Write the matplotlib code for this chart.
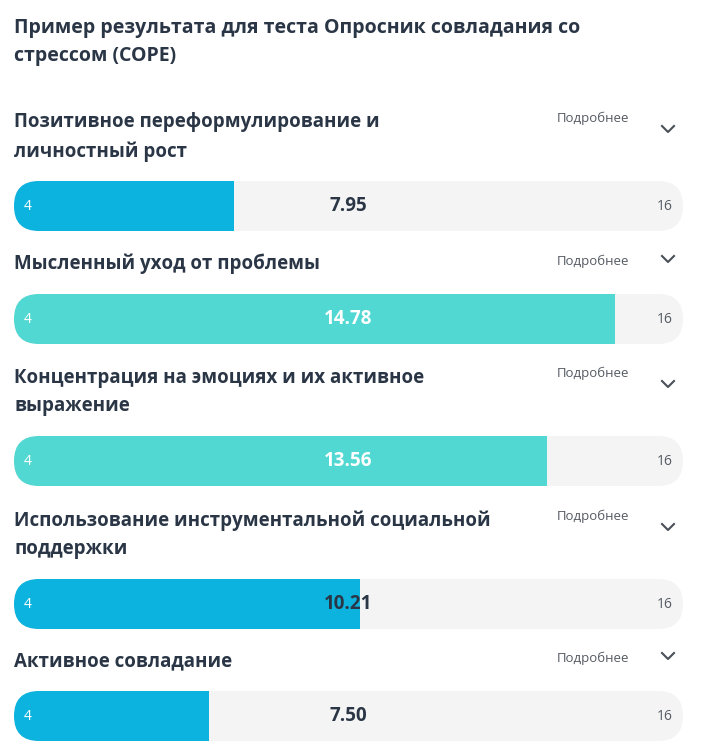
import matplotlib
matplotlib.use("Agg")
import matplotlib.pyplot as plt
from matplotlib.patches import FancyBboxPatch

# data
title = "Пример результата для теста Опросник совладания со\nстрессом (COPE)"
labels = ["Позитивное переформулирование и\nличностный рост",
          "Мысленный уход от проблемы",
          "Концентрация на эмоциях и их активное\nвыражение",
          "Использование инструментальной социальной\nподдержки",
          "Активное совладание"]
values = [7.95, 14.78, 13.56, 10.21, 7.50]
vmin, vmax = 4, 16
colors = ["#0bb3de", "#52d8d2", "#52d8d2", "#0bb3de", "#0bb3de"]

label_y = [137, 264, 392, 535, 661]   # pixel centres of label blocks
bar_y = [206, 319, 461, 604, 716]     # pixel centres of bars
more_y = [118, 261, 373, 516, 658]

W, H = 702, 748
dark = "#2a3646"
fam = ["Open Sans", "DejaVu Sans"]

fig = plt.figure(figsize=(W / 100, H / 100), dpi=100)
ax = fig.add_axes([0, 0, 1, 1])
ax.set_xlim(0, W)
ax.set_ylim(H, 0)
ax.axis("off")

ax.text(14, 42, title, fontsize=14, fontweight="bold", color=dark,
        va="center", ha="left", family=fam, linespacing=1.55)

for lab, ly, my in zip(labels, label_y, more_y):
    ax.text(14, ly, lab, fontsize=13.5, fontweight="bold", color=dark,
            va="center", ha="left", family=fam, linespacing=1.55)
    ax.text(557, my, "Подробнее", fontsize=9.5, color="#555b63",
            va="center", ha="left", family=fam)
    cy = my + 11 if "\n" in lab else my - 2
    ax.plot([662, 668, 674], [cy - 3, cy + 3, cy - 3], color="#4a5058", lw=1.5)

# bars axes: x in data units, y in pixels
left_px, right_px = 14, 683
bx = fig.add_axes([left_px / W, 0, (right_px - left_px) / W, 1])
bx.set_xlim(vmin, vmax)
bx.set_ylim(H, 0)
bx.axis("off")
bh = 50
xr = (bh / 2) * (vmax - vmin) / (right_px - left_px)
aspect = (bh / 2) / xr

for v, c, y in zip(values, colors, bar_y):
    track = FancyBboxPatch((vmin, y - bh / 2), vmax - vmin, bh,
                           boxstyle=f"round,pad=0,rounding_size={xr}",
                           mutation_aspect=aspect, fc="#f4f4f4", ec="none")
    bx.add_patch(track)
    bars = bx.barh(y, v - vmin, left=vmin, height=bh, color=c)
    for b in bars:
        b.set_clip_path(track)
    bx.text(vmin + 0.18, y, str(vmin), color="white", fontsize=10,
            va="center", ha="left", family=fam)
    bx.text(vmax - 0.18, y, str(vmax), color="#555b63", fontsize=10,
            va="center", ha="right", family=fam)
    mid = (vmin + vmax) / 2
    tc = "white" if v > mid + 0.5 else dark
    bx.text(mid, y, f"{v:.2f}", color=tc, fontsize=13.5, fontweight="bold",
            va="center", ha="center", family=fam)

fig.savefig("out.png", dpi=100)
